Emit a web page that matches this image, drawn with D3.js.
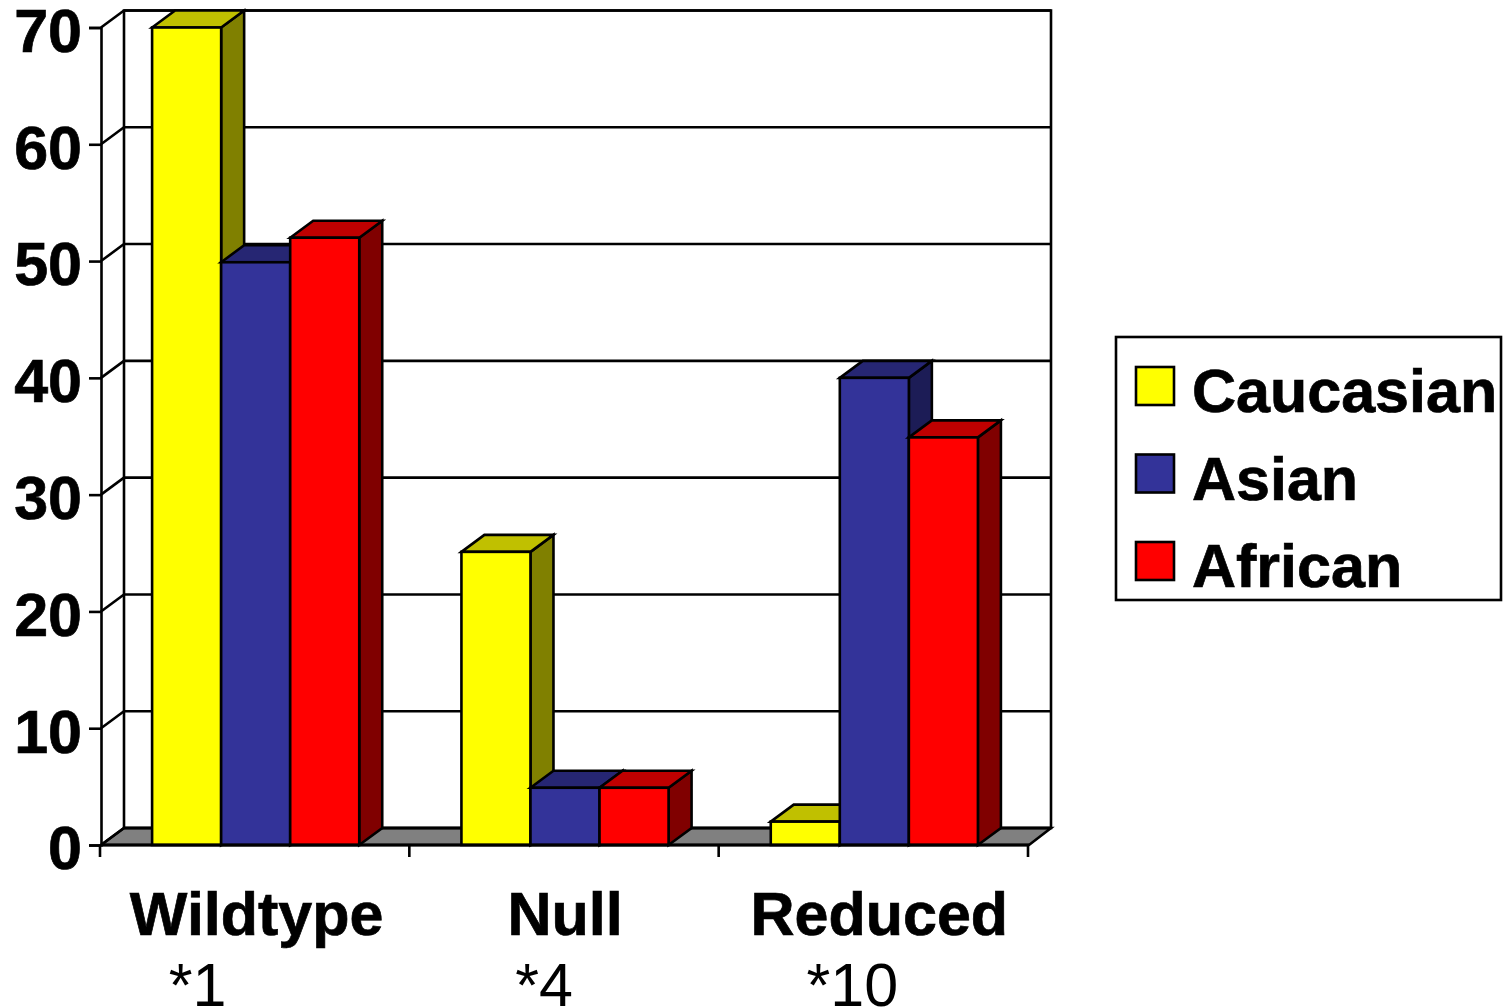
<!DOCTYPE html>
<html>
<head>
<meta charset="utf-8">
<script src="https://cdn.jsdelivr.net/npm/d3@7/dist/d3.min.js"></script>
<style>
  html, body { margin: 0; padding: 0; background: #fff; }
  svg { display: block; }
  text { font-family: "Liberation Sans", Arial, sans-serif; fill: #000; }
  .heavy { font-weight: bold; stroke: #000; stroke-width: 0.7px; }
</style>
</head>
<body>
<svg id="chart" width="1503" height="1008"></svg>
<script>
// Allele frequency by population
const categories = ["Wildtype", "Null", "Reduced"];
const alleles = ["*1", "*4", "*10"];
const seriesNames = ["Caucasian", "Asian", "African"];
const caucasian = [70, 25.1, 2];
const asian = [49.9, 4.9, 40];
const african = [52, 4.9, 34.9];
const yTicks = [0, 10, 20, 30, 40, 50, 60, 70];

// Front, top and side shades for each series
const fronts = ["#FFFF00", "#333399", "#FF0000"];
const tops = ["#C0C000", "#262673", "#BF0000"];
const sides = ["#808000", "#1C1C56", "#800000"];

const seriesValues = [caucasian, asian, african];

// Plot frame and 3D extrusion offset
const left = 101, right = 1029, bottom = 845, top70 = 27.5;
const depthX = 23, depthY = -17;
const stroke = 2.6;
const labelSize = 61;

const svg = d3.select("#chart");
const y = d3.scaleLinear().domain([0, 70]).range([bottom, top70]);
const x0 = d3.scaleBand().domain(categories).range([left, right]);
const x1 = d3.scaleBand().domain(seriesNames)
  .range([0, x0.bandwidth()]).paddingInner(0).paddingOuter(0.74);

const poly = pts => pts.map(p => p.join(",")).join(" ");
const line = (g, x1_, y1_, x2_, y2_, w = stroke) => g.append("line")
  .attr("x1", x1_).attr("y1", y1_).attr("x2", x2_).attr("y2", y2_)
  .attr("stroke", "#000").attr("stroke-width", w);

// Walls and floor
const walls = svg.append("g");
walls.append("polygon")
  .attr("points", poly([[left, bottom], [left + depthX, bottom + depthY],
    [right + depthX - 1, bottom + depthY], [right, bottom]]))
  .attr("fill", "#808080").attr("stroke", "#000").attr("stroke-width", stroke);
walls.append("rect")
  .attr("x", left + depthX).attr("y", y(70) + depthY)
  .attr("width", right - left - 1).attr("height", y(0) - y(70))
  .attr("fill", "none").attr("stroke", "#000").attr("stroke-width", stroke);

// Gridlines on the back wall and their returns on the side wall
yTicks.forEach(v => {
  line(walls, left + depthX, y(v) + depthY, right + depthX - 1, y(v) + depthY);
  line(walls, left, y(v), left + depthX, y(v) + depthY);
});

// Bars, painted left to right so nearer faces cover the right ones
const bars = svg.append("g");
categories.forEach((cat, c) => {
  seriesNames.forEach((name, s) => {
    const xa = x0(cat) + x1(name), xb = xa + x1.bandwidth();
    const yt = y(seriesValues[s][c]), yb = y(0);
    const g = bars.append("g")
      .attr("stroke", "#000").attr("stroke-width", stroke)
      .attr("stroke-linejoin", "miter");
    g.append("polygon")
      .attr("points", poly([[xb, yt], [xb + depthX, yt + depthY], [xb + depthX, yb + depthY], [xb, yb]]))
      .attr("fill", sides[s]);
    g.append("polygon")
      .attr("points", poly([[xa, yt], [xa + depthX, yt + depthY], [xb + depthX, yt + depthY], [xb, yt]]))
      .attr("fill", tops[s]);
    g.append("rect")
      .attr("x", xa).attr("y", yt).attr("width", xb - xa).attr("height", yb - yt)
      .attr("fill", fronts[s]);
  });
});

// Value axis
const yAxis = svg.append("g")
  .attr("transform", `translate(${left},0)`)
  .call(d3.axisLeft(y).tickValues(yTicks).tickSize(12).tickPadding(7).tickFormat(d3.format("d")));
yAxis.selectAll("path, line").attr("stroke", "#000").attr("stroke-width", stroke);
yAxis.selectAll("text")
  .attr("class", "heavy")
  .attr("font-size", labelSize)
  .attr("font-family", '"Liberation Sans", Arial, sans-serif')
  .attr("dy", "0.39em");

// Category axis: baseline and boundary ticks
const xAxis = svg.append("g");
line(xAxis, left, bottom, right, bottom, 3);
[...categories.map(c => x0(c)), right].forEach(t => line(xAxis, t - 1, bottom, t - 1, bottom + 12));

// Category names with the allele beneath, each line set by eye
const nameShift = [1, 0, 5];
const alleleShift = [-58, -21, -22];
const labels = svg.append("g").attr("text-anchor", "middle").attr("font-size", labelSize);
categories.forEach((cat, i) => {
  const cx = x0(cat) + x0.bandwidth() / 2;
  labels.append("text").attr("class", "heavy").attr("x", cx + nameShift[i]).attr("y", 935).text(cat);
  labels.append("text").attr("x", cx + alleleShift[i]).attr("y", 1006).text(alleles[i]);
});

// Legend
const legend = svg.append("g");
legend.append("rect")
  .attr("x", 1116).attr("y", 337).attr("width", 385).attr("height", 263)
  .attr("fill", "#fff").attr("stroke", "#000").attr("stroke-width", stroke);
const legendRow = d3.scalePoint().domain(seriesNames).range([367, 542]);
seriesNames.forEach((name, s) => {
  legend.append("rect")
    .attr("x", 1136).attr("y", legendRow(name)).attr("width", 38).attr("height", 38)
    .attr("fill", fronts[s]).attr("stroke", "#000").attr("stroke-width", stroke);
  legend.append("text")
    .attr("class", "heavy")
    .attr("x", 1192).attr("y", legendRow(name) + 45)
    .attr("font-size", labelSize).text(name);
});
</script>
</body>
</html>
